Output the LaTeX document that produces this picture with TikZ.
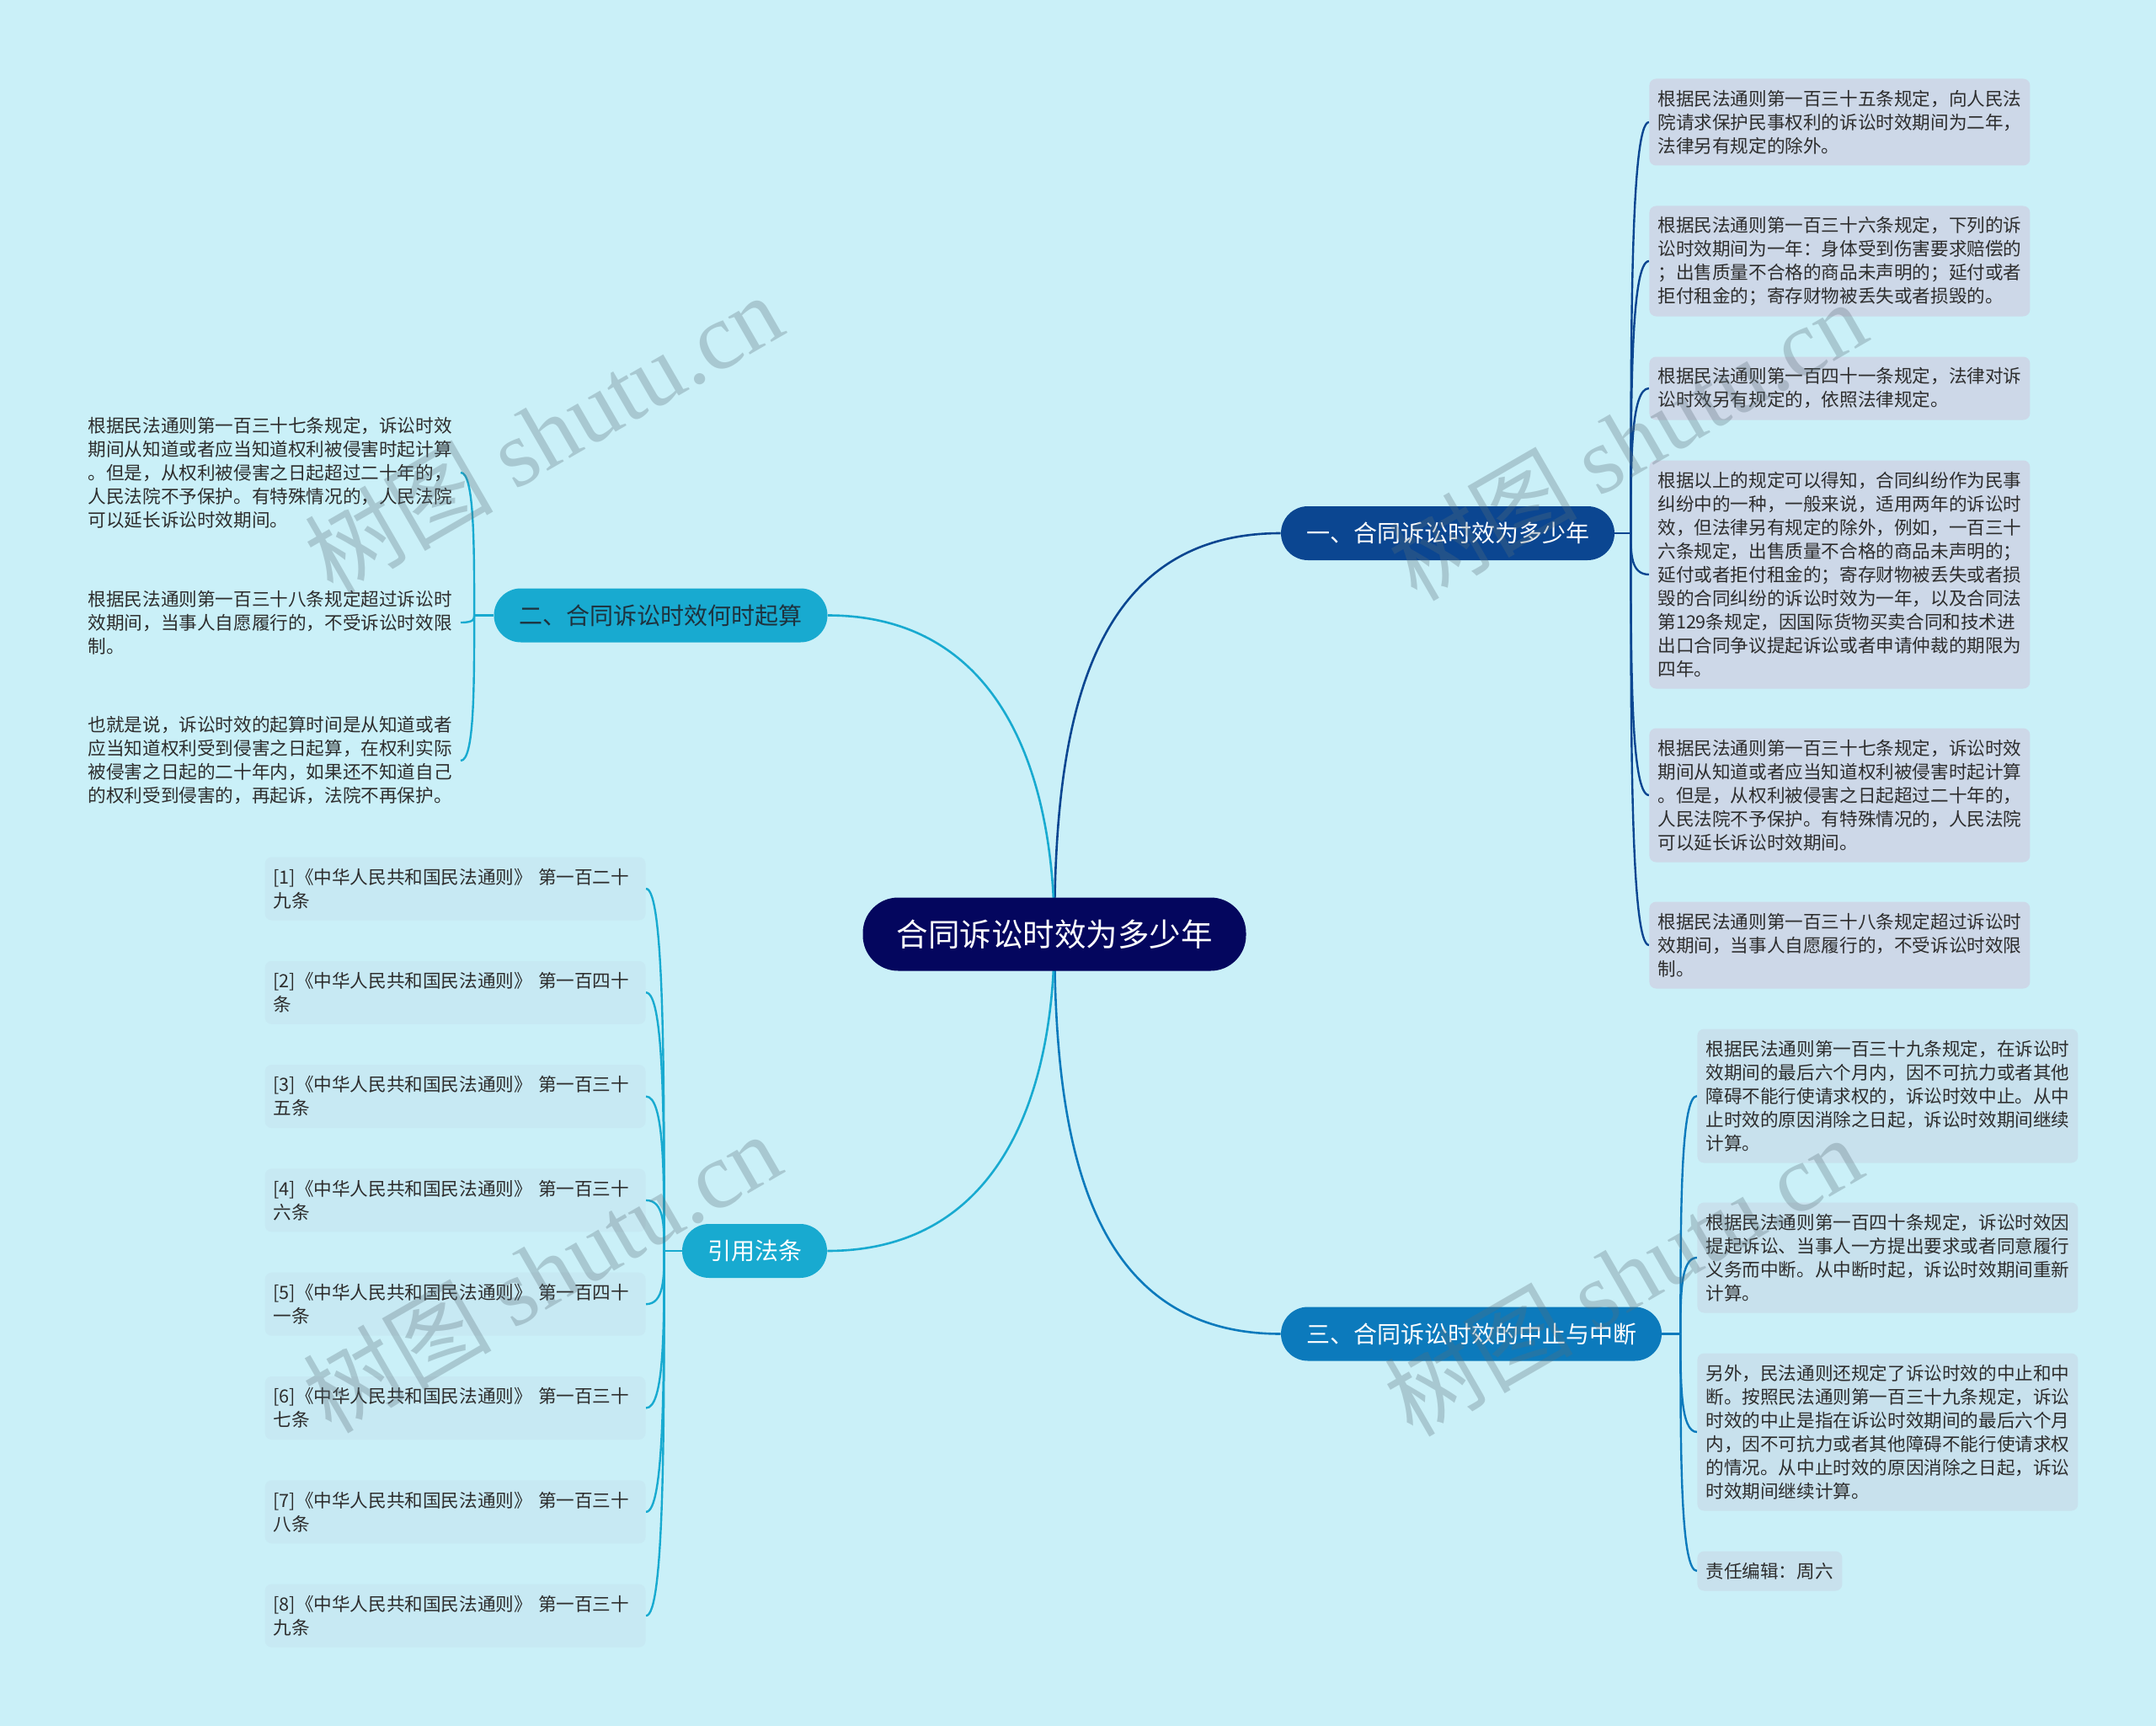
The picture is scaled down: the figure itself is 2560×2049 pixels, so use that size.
\documentclass[tikz,border=0pt]{standalone}
\usepackage{fontspec}
\setmainfont{Noto Sans CJK SC}
\newfontfamily\wmserif{Liberation Serif}
\usetikzlibrary{backgrounds,calc}

\definecolor{bgcol}{RGB}{202,240,248}
\definecolor{rootcol}{RGB}{4,6,94}
\definecolor{onecol}{RGB}{11,70,145}
\definecolor{twocol}{RGB}{24,170,208}
\definecolor{twotxt}{RGB}{30,50,62}
\definecolor{threecol}{RGB}{12,122,188}
\definecolor{txtcol}{RGB}{45,45,45}
\definecolor{boxone}{RGB}{205,216,232}
\definecolor{boxthree}{RGB}{200,225,237}
\definecolor{boxfour}{RGB}{199,233,243}
\definecolor{wmcol}{RGB}{90,110,120}

\begin{document}
\begin{tikzpicture}[x=0.5pt,y=-0.5pt,
  root/.style={fill=rootcol, text=white, rounded corners=21pt, minimum height=43.5pt,
    minimum width=227.5pt, font=\fontsize{18.75pt}{21pt}\selectfont},
  branch/.style={rounded corners=16pt, minimum height=32pt, inner xsep=15pt,
    font=\fontsize{14pt}{16pt}\selectfont},
  leaf/.style={text=txtcol, rounded corners=4pt, text width=216pt, inner xsep=5pt,
    inner ysep=2pt, align=left, font=\fontsize{10.8pt}{14pt}\selectfont},
  nl/.style={minimum height={23.5pt+14pt*(#1-1)}},
  link/.style={line width=1.3pt},
  twig/.style={line width=1.2pt},
  wm/.style={rotate=30, text=wmcol, opacity=0.3, font=\fontsize{56pt}{60pt}\selectfont}
]

  \useasboundingbox (0,0) rectangle (2560,2049);

  % centre and main topics
  \node[root] (root) at (1252,1109) {合同诉讼时效为多少年};
  \node[branch, fill=onecol, text=white] (b1) at (1719,633) {一、合同诉讼时效为多少年};
  \node[branch, fill=twocol, text=twotxt] (b2) at (784.5,730.5) {二、合同诉讼时效何时起算};
  \node[branch, fill=threecol, text=white] (b3) at (1747,1583.5) {三、合同诉讼时效的中止与中断};
  \node[branch, fill=twocol, text=white] (b4) at (896,1485) {引用法条};

  \coordinate (j1) at ([xshift=9.5pt]b1.east);
  \coordinate (j2) at ([xshift=-11.5pt]b2.west);
  \coordinate (j3) at ([xshift=11pt]b3.east);
  \coordinate (j4) at ([xshift=-10.5pt]b4.west);

  % topic one
  \node[leaf, fill=boxone, nl=3, anchor=west] (a1) at (1958,145) {根据民法通则第一百三十五条规定，向人民法\\院请求保护民事权利的诉讼时效期间为二年，\\法律另有规定的除外。};
  \node[leaf, fill=boxone, nl=4, anchor=west] (a2) at (1958,310) {根据民法通则第一百三十六条规定，下列的诉\\讼时效期间为一年：身体受到伤害要求赔偿的\\；出售质量不合格的商品未声明的；延付或者\\拒付租金的；寄存财物被丢失或者损毁的。};
  \node[leaf, fill=boxone, nl=2, anchor=west] (a3) at (1958,461) {根据民法通则第一百四十一条规定，法律对诉\\讼时效另有规定的，依照法律规定。};
  \node[leaf, fill=boxone, nl=9, anchor=west] (a4) at (1958,682) {根据以上的规定可以得知，合同纠纷作为民事\\纠纷中的一种，一般来说，适用两年的诉讼时\\效，但法律另有规定的除外，例如，一百三十\\六条规定，出售质量不合格的商品未声明的；\\延付或者拒付租金的；寄存财物被丢失或者损\\毁的合同纠纷的诉讼时效为一年，以及合同法\\第129条规定，因国际货物买卖合同和技术进\\出口合同争议提起诉讼或者申请仲裁的期限为\\四年。};
  \node[leaf, fill=boxone, nl=5, anchor=west] (a5) at (1958,944) {根据民法通则第一百三十七条规定，诉讼时效\\期间从知道或者应当知道权利被侵害时起计算\\。但是，从权利被侵害之日起超过二十年的，\\人民法院不予保护。有特殊情况的，人民法院\\可以延长诉讼时效期间。};
  \node[leaf, fill=boxone, nl=3, anchor=west] (a6) at (1958,1122) {根据民法通则第一百三十八条规定超过诉讼时\\效期间，当事人自愿履行的，不受诉讼时效限\\制。};

  % topic two
  \node[leaf, nl=5, anchor=east] (s1) at (547,561) {根据民法通则第一百三十七条规定，诉讼时效\\期间从知道或者应当知道权利被侵害时起计算\\。但是，从权利被侵害之日起超过二十年的，\\人民法院不予保护。有特殊情况的，人民法院\\可以延长诉讼时效期间。};
  \node[leaf, nl=3, anchor=east] (s2) at (547,739) {根据民法通则第一百三十八条规定超过诉讼时\\效期间，当事人自愿履行的，不受诉讼时效限\\制。};
  \node[leaf, nl=4, anchor=east] (s3) at (547,903) {也就是说，诉讼时效的起算时间是从知道或者\\应当知道权利受到侵害之日起算，在权利实际\\被侵害之日起的二十年内，如果还不知道自己\\的权利受到侵害的，再起诉，法院不再保护。};

  % topic three
  \node[leaf, fill=boxthree, nl=5, anchor=west] (c1) at (2015,1301) {根据民法通则第一百三十九条规定，在诉讼时\\效期间的最后六个月内，因不可抗力或者其他\\障碍不能行使请求权的，诉讼时效中止。从中\\止时效的原因消除之日起，诉讼时效期间继续\\计算。};
  \node[leaf, fill=boxthree, nl=4, anchor=west] (c2) at (2015,1493) {根据民法通则第一百四十条规定，诉讼时效因\\提起诉讼、当事人一方提出要求或者同意履行\\义务而中断。从中断时起，诉讼时效期间重新\\计算。};
  \node[leaf, fill=boxthree, nl=6, anchor=west] (c3) at (2015,1700) {另外，民法通则还规定了诉讼时效的中止和中\\断。按照民法通则第一百三十九条规定，诉讼\\时效的中止是指在诉讼时效期间的最后六个月\\内，因不可抗力或者其他障碍不能行使请求权\\的情况。从中止时效的原因消除之日起，诉讼\\时效期间继续计算。};
  \node[leaf, fill=boxthree, nl=1, anchor=west, text width=76pt] (c4) at (2015,1865) {责任编辑：周六};

  % cited articles
  \foreach \i/\a/\b in {1/第一百二十/九条, 2/第一百四十/条, 3/第一百三十/五条, 4/第一百三十/六条,
                        5/第一百四十/一条, 6/第一百三十/七条, 7/第一百三十/八条, 8/第一百三十/九条}{
    \node[leaf, fill=boxfour, nl=2, anchor=east] (d\i) at (767,{1055+123.3*(\i-1)}) {[\i]《中华人民共和国民法通则》 \a\\\b};
  }

  \begin{pgfonlayer}{background}
    \fill[bgcol] (0,0) rectangle (2560,2049);

    \draw[link, onecol] (root.center) to[out=90, in=180, looseness=1.1] (b1.west);
    \draw[link, twocol] (root.center) to[out=90, in=0, looseness=1.1] (b2.east);
    \draw[link, threecol] (root.center) to[out=-90, in=180, looseness=1.1] (b3.west);
    \draw[link, twocol] (root.center) to[out=-90, in=0, looseness=1.1] (b4.east);

    \draw[twig, onecol] (b1.east) -- (j1);
    \draw[twig, twocol] (b2.west) -- (j2);
    \draw[twig, threecol] (b3.east) -- (j3);
    \draw[twig, twocol] (b4.west) -- (j4);

    \foreach \c in {a1,a2,a3,a4,a5,a6}
      \draw[twig, onecol] (j1) .. controls ($(j1)!.5!(j1|-\c.west)$) and (j1|-\c.west) .. (\c.west);
    \foreach \c in {s1,s2,s3}
      \draw[twig, twocol] (j2) .. controls ($(j2)!.5!(j2|-\c.east)$) and (j2|-\c.east) .. (\c.east);
    \foreach \c in {c1,c2,c3,c4}
      \draw[twig, threecol] (j3) .. controls ($(j3)!.5!(j3|-\c.west)$) and (j3|-\c.west) .. (\c.west);
    \foreach \i in {1,...,8}
      \draw[twig, twocol] (j4) .. controls ($(j4)!.5!(j4|-d\i.east)$) and (j4|-d\i.east) .. (d\i.east);
  \end{pgfonlayer}

  % watermark
  \foreach \w/\wx/\wy in {1/645/514, 2/643/1510, 3/1932/522, 4/1927/1514}
    \node[wm] (wm\w) at (\wx,\wy) {树图 {\wmserif shutu.cn}};

\end{tikzpicture}
\end{document}
